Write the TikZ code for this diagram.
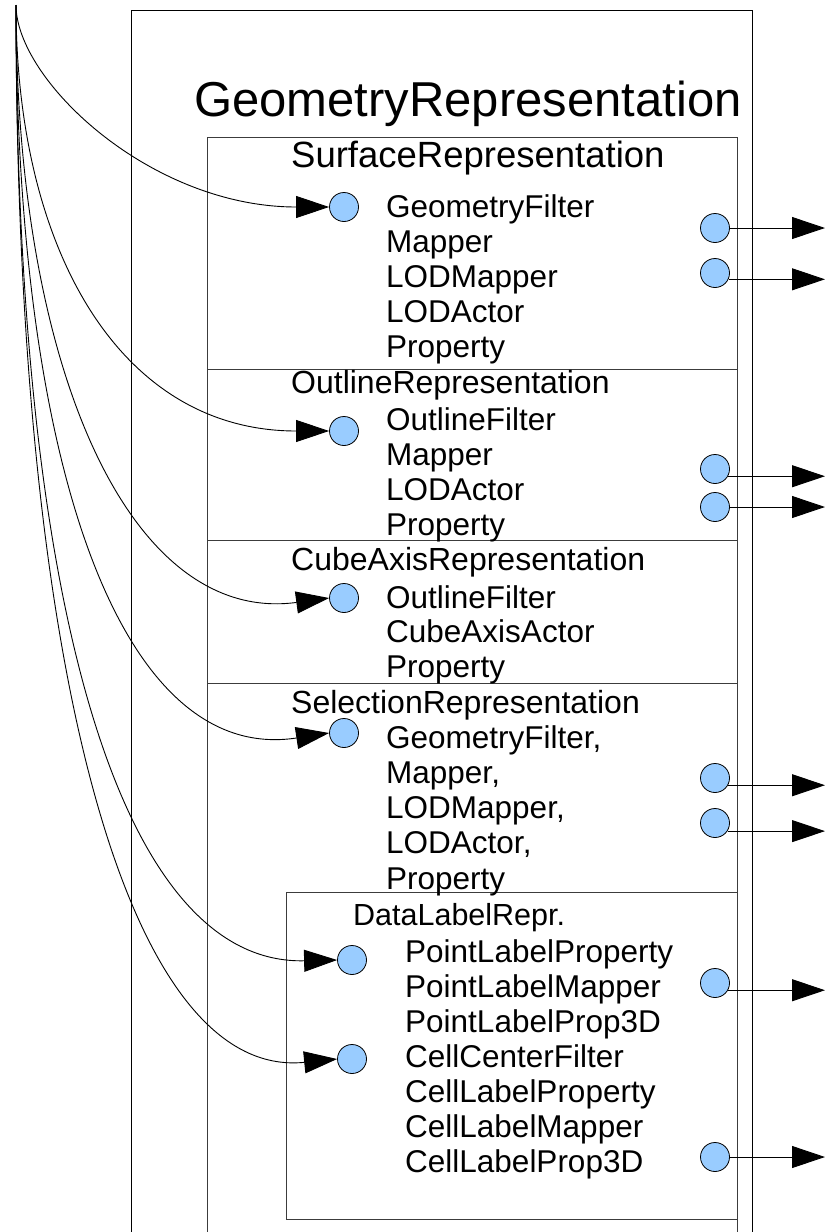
\documentclass[tikz,border=0pt]{standalone}
\usepackage{fontspec}
\setmainfont{Liberation Sans}
\usetikzlibrary{arrows.meta}
\definecolor{portfill}{HTML}{99CCFF}
\definecolor{boxline}{HTML}{3C3C3C}

\begin{document}
\begin{tikzpicture}[x=1pt,y=-1pt,
  outerframe/.style={draw=black, line width=1pt},
  frame/.style={draw=boxline, line width=1pt},
  port/.style={circle, draw=black, line width=0.8pt, fill=portfill, minimum size=29pt, inner sep=0pt},
  item/.style={anchor=base west, inner sep=0pt, font=\fontsize{31.5}{35}\selectfont},
  boxtitle/.style={anchor=base west, inner sep=0pt, font=\fontsize{32}{36}\selectfont},
  feed/.style={line width=0.9pt, -{Triangle[length=33pt,width=22pt]}},
  outlink/.style={line width=0.9pt, -{Triangle[length=33pt,width=22pt]}},
]
\useasboundingbox (0,0) rectangle (839,1232);

% outer container (open at the bottom)
\draw[outerframe] (131,1232) -- (131,10) -- (752,10) -- (752,1232);
\node[anchor=base west, inner sep=0pt, font=\fontsize{49}{53}\selectfont] (title) at (194,116) {GeometryRepresentation};

% representation boxes
\draw[frame] (207,137) rectangle (737,369);
\draw[frame] (207,369) rectangle (737,540);
\draw[frame] (207,540) rectangle (737,683);
\draw[frame] (207,1232) -- (207,683) -- (737,683) -- (737,1232);
\draw[frame] (286,892) rectangle (737,1219);

% box titles
\node[boxtitle, font=\fontsize{36.5}{40}\selectfont] (surfT) at (291,167) {SurfaceRepresentation};
\node[boxtitle] (outlT) at (291,393) {OutlineRepresentation};
\node[boxtitle] (cubeT) at (291,570) {CubeAxisRepresentation};
\node[boxtitle] (selT) at (291,713) {SelectionRepresentation};
\node[boxtitle, font=\fontsize{30.5}{34}\selectfont] (dlT) at (353,925) {DataLabelRepr.};

% member lists
\foreach \t [count=\i] in {GeometryFilter, Mapper, LODMapper, LODActor, Property}
  \node[item] (surf-\i) at (386,{217+35.2*(\i-1)}) {\t};
\foreach \t [count=\i] in {OutlineFilter, Mapper, LODActor, Property}
  \node[item] (outl-\i) at (386,{430+35*(\i-1)}) {\t};
\foreach \t [count=\i] in {OutlineFilter, CubeAxisActor, Property}
  \node[item] (cube-\i) at (386,{608+34.5*(\i-1)}) {\t};
\foreach \t [count=\i] in {{GeometryFilter,}, {Mapper,}, {LODMapper,}, {LODActor,}, Property}
  \node[item] (sel-\i) at (386,{748+35.25*(\i-1)}) {\t};
\foreach \t [count=\i] in {PointLabelProperty, PointLabelMapper, PointLabelProp3D, CellCenterFilter, CellLabelProperty, CellLabelMapper, CellLabelProp3D}
  \node[item] (dl-\i) at (405,{962+35*(\i-1)}) {\t};

% input ports
\node[port] (sl1) at (344,207) {};
\node[port] (ol1) at (344,431) {};
\node[port] (cl1) at (344,598) {};
\node[port] (xl1) at (344,733) {};
\node[port] (dl1) at (352,960) {};
\node[port] (dl2) at (352,1059) {};

% output ports
\node[port] (sr1) at (715,228) {};
\node[port] (sr2) at (715,273) {};
\node[port] (or1) at (715,469) {};
\node[port] (or2) at (715,507) {};
\node[port] (xr1) at (715,778) {};
\node[port] (xr2) at (715,823) {};
\node[port] (dr1) at (715,983) {};
\node[port] (dr2) at (715,1157) {};

% common source of the input links
\coordinate (src) at (16,5);
\draw[feed] (src) .. controls (16,80) and (150,207) .. (sl1.west);
\draw[feed] (src) .. controls (16,250) and (120,431) .. (ol1.west);
\draw[feed] (src) .. controls (16,370) and (130,625) .. (cl1.west);
\draw[feed] (src) .. controls (16,465) and (120,765) .. (xl1.west);
\draw[feed] (src) .. controls (16,625) and (125,965) .. (dl1.west);
\draw[feed] (src) .. controls (16,685) and (130,1080) .. (dl2.west);

% output links
\coordinate (sink) at (825,0);
\draw[outlink] (sr1.east) -- (sr1.east -| sink);
\draw[outlink] (sr2.-25) -- (sr2.-25 -| sink);
\draw[outlink] (or1.-29) -- (or1.-29 -| sink);
\draw[outlink] (or2.east) -- (or2.east -| sink);
\draw[outlink] (xr1.-29) -- (xr1.-29 -| sink);
\draw[outlink] (xr2.-33) -- (xr2.-33 -| sink);
\draw[outlink] (dr1.-29) -- (dr1.-29 -| sink);
\draw[outlink] (dr2.east) -- (dr2.east -| sink);
\end{tikzpicture}
\end{document}
